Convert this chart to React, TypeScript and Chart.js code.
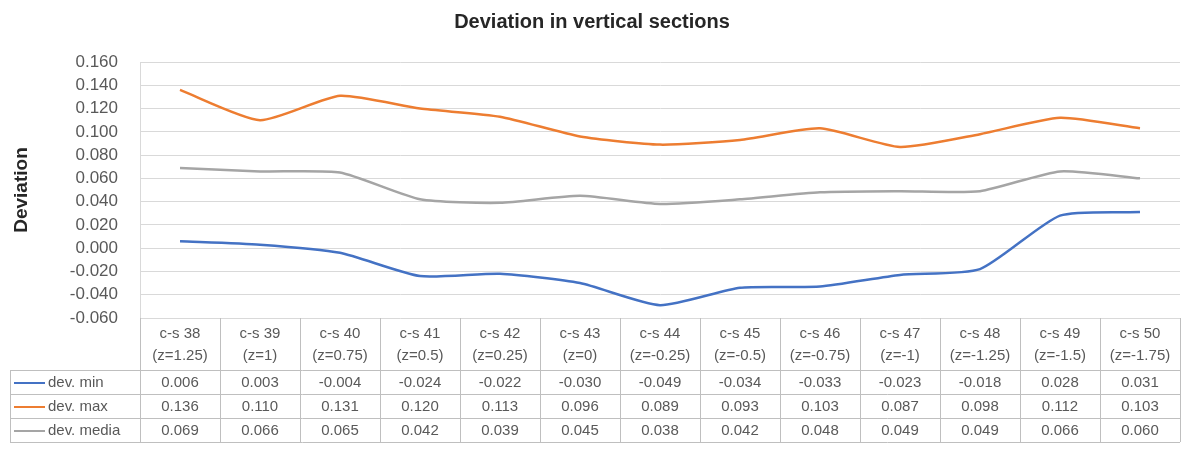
import React, { useEffect, useRef } from "react";
import { Chart, registerables } from "chart.js";

Chart.register(...registerables);

const categories = ["c-s 38", "c-s 39", "c-s 40", "c-s 41", "c-s 42", "c-s 43", "c-s 44", "c-s 45", "c-s 46", "c-s 47", "c-s 48", "c-s 49", "c-s 50"];
const zLabels = ["(z=1.25)", "(z=1)", "(z=0.75)", "(z=0.5)", "(z=0.25)", "(z=0)", "(z=-0.25)", "(z=-0.5)", "(z=-0.75)", "(z=-1)", "(z=-1.25)", "(z=-1.5)", "(z=-1.75)"];
const devMin = [0.006, 0.003, -0.004, -0.024, -0.022, -0.030, -0.049, -0.034, -0.033, -0.023, -0.018, 0.028, 0.031];
const devMax = [0.136, 0.110, 0.131, 0.120, 0.113, 0.096, 0.089, 0.093, 0.103, 0.087, 0.098, 0.112, 0.103];
const devMedia = [0.069, 0.066, 0.065, 0.042, 0.039, 0.045, 0.038, 0.042, 0.048, 0.049, 0.049, 0.066, 0.060];
const seriesNames = ["dev. min", "dev. max", "dev. media"];
const seriesColors = ["#4472C4", "#ED7D31", "#A5A5A5"];

const FONT = "'Liberation Sans', Arial, sans-serif";
const TEXT = "#595959";
const LINE = "#BFBFBF";

const tablePlugin = {
  id: "dataTable",
  afterDraw(chart: any) {
    const ctx = chart.ctx;
    const area = chart.chartArea;
    const xs = chart.scales.x;
    const n = categories.length;
    const colW = (area.right - area.left) / n;
    const top = area.bottom;
    const headH = 52;
    const rowH = 24;
    const legendLeft = 10;
    const dataTop = top + headH;
    const bottom = dataTop + rowH * 3;

    ctx.save();
    ctx.strokeStyle = LINE;
    ctx.lineWidth = 1;
    const hline = (x1: number, x2: number, y: number) => {
      ctx.beginPath();
      ctx.moveTo(x1, Math.round(y) + 0.5);
      ctx.lineTo(x2, Math.round(y) + 0.5);
      ctx.stroke();
    };
    const vline = (x: number, y1: number, y2: number) => {
      ctx.beginPath();
      ctx.moveTo(Math.round(x) + 0.5, y1);
      ctx.lineTo(Math.round(x) + 0.5, y2);
      ctx.stroke();
    };
    for (let r = 0; r <= 3; r++) hline(legendLeft, area.right, dataTop + r * rowH);
    vline(legendLeft, dataTop, bottom);
    for (let i = 0; i <= n; i++) vline(area.left + i * colW, top, bottom);

    ctx.fillStyle = TEXT;
    ctx.font = `15px ${FONT}`;
    ctx.textAlign = "center";
    ctx.textBaseline = "middle";
    for (let i = 0; i < n; i++) {
      const cx = xs.getPixelForValue(i);
      ctx.fillText(categories[i], cx, top + 16);
      ctx.fillText(zLabels[i], cx, top + 38);
    }
    const data = [devMin, devMax, devMedia];
    for (let s = 0; s < 3; s++) {
      const cy = dataTop + s * rowH + rowH / 2 + 1;
      ctx.textAlign = "center";
      for (let i = 0; i < n; i++) {
        ctx.fillText(data[s][i].toFixed(3), xs.getPixelForValue(i), cy);
      }
      ctx.strokeStyle = seriesColors[s];
      ctx.lineWidth = 2;
      ctx.beginPath();
      ctx.moveTo(14, cy);
      ctx.lineTo(45, cy);
      ctx.stroke();
      ctx.textAlign = "left";
      ctx.fillText(seriesNames[s], 48, cy);
    }

    ctx.fillStyle = "#262626";
    ctx.font = `bold 20px ${FONT}`;
    ctx.textAlign = "center";
    ctx.fillText("Deviation in vertical sections", 592, 22);
    ctx.restore();
  },
};

export default function App() {
  const ref = useRef<HTMLCanvasElement>(null);
  useEffect(() => {
    document.body.style.margin = "0";
    const chart = new Chart(ref.current!, {
      type: "line",
      data: {
        labels: categories,
        datasets: [devMin, devMax, devMedia].map((d, i) => ({
          label: seriesNames[i],
          data: d,
          borderColor: seriesColors[i],
          backgroundColor: seriesColors[i],
          borderWidth: 2.5,
          pointRadius: 0,
          tension: 0.2,
          fill: false,
        })),
      },
      options: {
        animation: false,
        responsive: false,
        layout: { padding: { top: 62, bottom: 141, right: 5, left: 0 } },
        plugins: { legend: { display: false }, title: { display: false }, tooltip: { enabled: false } },
        scales: {
          x: { type: "category", offset: true, display: false },
          y: {
            min: -0.06,
            max: 0.16,
            afterFit: (s: any) => { s.width = 140; },
            ticks: {
              stepSize: 0.02,
              autoSkip: false,
              padding: 22,
              color: TEXT,
              font: { size: 17, family: FONT },
              callback: (v: any) => Number(v).toFixed(3),
            },
            grid: { color: "#D9D9D9", drawTicks: false },
            border: { display: true, color: "#D9D9D9" },
            title: {
              display: true,
              text: "Deviation",
              color: "#262626",
              font: { size: 19, weight: "bold", family: FONT },
              padding: { top: 10, bottom: 0 },
            },
          },
        },
      },
      plugins: [tablePlugin],
    });
    return () => chart.destroy();
  }, []);
  return <canvas ref={ref} width={1185} height={459} style={{ display: "block" }} />;
}
